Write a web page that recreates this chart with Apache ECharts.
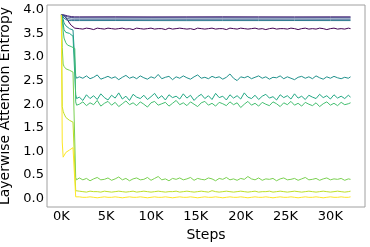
<!DOCTYPE html>
<html><head><meta charset="utf-8">
<script src="https://cdn.jsdelivr.net/npm/echarts@6/dist/echarts.min.js"></script>
<style>html,body{margin:0;padding:0;background:#fff}#c{width:370px;height:247px}</style>
</head><body><div id="c"></div>
<script>
// x positions (training steps)
const earlySteps = [0,100,200,300,500,700,900,1100,1300,1500,1600,1700];
const lateSteps = [];
for (let s = 2000; s <= 32000; s += 400) lateSteps.push(s);
lateSteps.push(32250);
const flatSteps = [2000,6000,10000,14000,18000,22000,26000,30000,32250];

const xTicks = ['0K','5K','10K','15K','20K','25K','30K'];
const yTicks = ['0.0','0.5','1.0','1.5','2.0','2.5','3.0','3.5','4.0'];

const colors = ['#440154','#482475','#414487','#355f8d','#2a788e','#21918c','#22a884','#44bf70','#7ad151','#bddf26','#fde725'];

// layer 0
const l0Early = [3.89,3.89,3.89,3.88,3.84,3.78,3.72,3.67,3.63,3.61,3.60,3.61];
const l0Late = [3.60,3.59,3.61,3.60,3.58,3.61,3.60,3.59,3.61,3.60,
3.59,3.60,3.61,3.59,3.60,3.58,3.61,3.60,3.59,3.60,
3.61,3.59,3.60,3.60,3.58,3.61,3.59,3.60,3.61,3.60,
3.59,3.60,3.58,3.61,3.60,3.59,3.60,3.61,3.59,3.60,
3.60,3.58,3.61,3.60,3.59,3.61,3.60,3.59,3.60,3.61,
3.59,3.60,3.58,3.60,3.61,3.59,3.60,3.60,3.59,3.61,
3.60,3.58,3.60,3.61,3.59,3.60,3.59,3.61,3.60,3.58,
3.60,3.61,3.59,3.60,3.59,3.61,3.60];
// layers 1-4 (nearly flat)
const l1Early = [3.89,3.89,3.89,3.89,3.88,3.87,3.86,3.855,3.85,3.85,3.85,3.85];
const l1Late = [3.85,3.851,3.849,3.85,3.851,3.85,3.849,3.85,3.85];
const l2Early = [3.89,3.89,3.89,3.88,3.87,3.85,3.84,3.835,3.83,3.83,3.83,3.83];
const l2Late = [3.83,3.829,3.831,3.83,3.83,3.829,3.83,3.831,3.83];
const l3Early = [3.89,3.89,3.88,3.86,3.83,3.81,3.80,3.80,3.80,3.80,3.80,3.80];
const l3Late = [3.80,3.80,3.801,3.799,3.80,3.80,3.801,3.80,3.80];
const l4Early = [3.89,3.89,3.86,3.82,3.78,3.77,3.77,3.77,3.77,3.77,3.77,3.77];
const l4Late = [3.77,3.771,3.77,3.769,3.77,3.77,3.771,3.77,3.77];
// layer 5
const l5Early = [3.89,3.88,3.80,3.72,3.66,3.62,3.60,3.58,3.57,3.56,2.60,2.55];
const l5Late = [2.58,2.55,2.60,2.54,2.57,2.62,2.53,2.56,2.59,2.55,
2.58,2.52,2.57,2.61,2.55,2.58,2.54,2.60,2.56,2.53,
2.58,2.55,2.63,2.54,2.57,2.59,2.52,2.58,2.55,2.60,
2.56,2.53,2.58,2.62,2.55,2.57,2.54,2.59,2.56,2.58,
2.53,2.57,2.64,2.55,2.50,2.58,2.56,2.59,2.54,2.57,
2.60,2.55,2.58,2.53,2.57,2.56,2.60,2.54,2.58,2.55,
2.52,2.57,2.59,2.55,2.58,2.54,2.60,2.56,2.53,2.58,
2.55,2.59,2.56,2.54,2.57,2.55,2.58];
// layer 6
const l6Early = [3.89,3.85,3.70,3.58,3.52,3.48,3.50,3.46,3.44,3.45,2.20,2.12];
const l6Late = [2.15,2.08,2.20,2.12,2.18,2.10,2.22,2.14,2.09,2.19,
2.13,2.24,2.11,2.17,2.08,2.21,2.15,2.12,2.19,2.10,
2.16,2.23,2.12,2.18,2.09,2.20,2.14,2.17,2.11,2.22,
2.13,2.19,2.08,2.16,2.21,2.12,2.18,2.10,2.23,2.14,
2.17,2.09,2.20,2.13,2.18,2.11,2.24,2.15,2.12,2.19,
2.10,2.17,2.21,2.13,2.16,2.09,2.20,2.14,2.18,2.11,
2.22,2.13,2.17,2.10,2.19,2.15,2.12,2.21,2.14,2.18,
2.11,2.20,2.13,2.17,2.12,2.19,2.15];
// layer 7
const l7Early = [3.89,3.80,3.55,3.40,3.30,3.25,3.28,3.22,3.20,3.18,2.05,1.98];
const l7Late = [2.00,2.05,1.97,2.03,1.99,2.08,1.96,2.02,2.06,1.98,
2.04,1.95,2.01,2.07,1.99,2.03,1.97,2.05,2.00,1.94,
2.03,2.06,1.98,2.01,2.04,1.96,2.02,2.08,1.99,2.03,
1.97,2.05,2.00,1.95,2.03,2.06,1.98,2.02,1.96,2.04,
2.01,1.97,2.05,1.99,2.03,1.93,2.00,2.06,1.98,2.02,
1.96,2.04,2.00,1.97,2.05,2.01,1.95,2.03,1.99,2.06,
1.98,2.02,1.96,2.04,2.00,1.97,2.03,1.95,2.01,2.05,
1.98,2.02,1.97,2.04,1.99,2.01,2.03];
// layer 8
const l8Early = [3.89,3.20,2.85,2.80,2.75,2.78,2.72,2.70,2.68,2.66,0.45,0.40];
const l8Late = [0.44,0.40,0.43,0.38,0.42,0.45,0.40,0.41,0.44,0.39,
0.42,0.46,0.40,0.43,0.38,0.42,0.44,0.40,0.41,0.45,
0.39,0.43,0.47,0.40,0.42,0.38,0.43,0.41,0.44,0.40,
0.42,0.45,0.39,0.43,0.41,0.40,0.44,0.42,0.38,0.43,
0.41,0.45,0.40,0.42,0.39,0.43,0.41,0.47,0.42,0.40,
0.44,0.39,0.42,0.41,0.43,0.38,0.42,0.44,0.40,0.41,
0.43,0.39,0.42,0.45,0.40,0.41,0.43,0.39,0.42,0.44,
0.40,0.42,0.41,0.43,0.39,0.42,0.41];
// layer 9
const l9Early = [3.89,1.95,1.85,1.80,1.72,1.70,1.66,1.64,1.62,1.60,0.17,0.15];
const l9Late = [0.16,0.15,0.14,0.16,0.15,0.15,0.14,0.16,0.15,0.14,
0.15,0.16,0.15,0.14,0.15,0.16,0.14,0.15,0.16,0.15,
0.14,0.15,0.16,0.15,0.14,0.15,0.15,0.16,0.14,0.15,
0.16,0.15,0.14,0.15,0.16,0.15,0.14,0.17,0.15,0.14,
0.15,0.16,0.15,0.14,0.15,0.16,0.15,0.14,0.15,0.16,
0.14,0.15,0.15,0.16,0.14,0.15,0.16,0.15,0.14,0.15,
0.16,0.15,0.14,0.15,0.16,0.15,0.14,0.15,0.16,0.15,
0.14,0.15,0.16,0.15,0.14,0.15,0.16];
// layer 10
const l10Early = [3.89,1.20,0.88,0.92,0.98,1.00,1.03,1.06,1.08,1.10,0.04,0.03];
const l10Late = [0.04,0.03,0.03,0.04,0.03,0.02,0.03,0.04,0.03,0.03,
0.04,0.03,0.02,0.03,0.04,0.03,0.03,0.04,0.03,0.02,
0.03,0.04,0.03,0.03,0.04,0.03,0.02,0.03,0.04,0.03,
0.03,0.04,0.03,0.02,0.03,0.04,0.03,0.03,0.04,0.03,
0.02,0.03,0.04,0.03,0.03,0.04,0.03,0.02,0.03,0.04,
0.03,0.03,0.04,0.03,0.02,0.03,0.04,0.03,0.03,0.04,
0.03,0.02,0.03,0.04,0.03,0.03,0.04,0.03,0.02,0.03,
0.04,0.03,0.03,0.04,0.03,0.03,0.04];

const layers = [
  [l0Early, l0Late, lateSteps],
  [l1Early, l1Late, flatSteps],
  [l2Early, l2Late, flatSteps],
  [l3Early, l3Late, flatSteps],
  [l4Early, l4Late, flatSteps],
  [l5Early, l5Late, lateSteps],
  [l6Early, l6Late, lateSteps],
  [l7Early, l7Late, lateSteps],
  [l8Early, l8Late, lateSteps],
  [l9Early, l9Late, lateSteps],
  [l10Early, l10Late, lateSteps]
];

function pairs(early, late, steps) {
  const out = earlySteps.map((s, i) => [s, early[i]]);
  steps.forEach((s, i) => out.push([s, late[i]]));
  return out;
}

const series = layers.map((l, i) => ({
  type: 'line',
  data: pairs(l[0], l[1], l[2]),
  showSymbol: false,
  symbol: 'none',
  lineStyle: { width: 1, color: colors[i] },
  itemStyle: { color: colors[i] },
  silent: true
}));

const font = 'DejaVu Sans';
const chart = echarts.init(document.getElementById('c'), null, { renderer: 'canvas' });
chart.setOption({
  animation: false,
  backgroundColor: '#fff',
  grid: { left: 47, right: 5, top: 5, bottom: 40, containLabel: false, outerBoundsMode: 'none',
    show: true, borderColor: '#a0a0a0', borderWidth: 1, backgroundColor: '#fff' },
  xAxis: {
    type: 'value', min: -1600, max: 33860, interval: 200,
    name: 'Steps', nameLocation: 'middle', nameGap: 18,
    nameTextStyle: { fontFamily: font, fontSize: 14, color: '#000' },
    axisLine: { show: false }, axisTick: { show: false }, splitLine: { show: false },
    axisLabel: { interval: 0, hideOverlap: false, showMinLabel: true, showMaxLabel: true,
      fontFamily: font, fontSize: 13, color: '#000', margin: 3,
      formatter: v => { const k = Math.round(v / 5000); return (Math.abs(v - k * 5000) < 1 && k >= 0 && k <= 6) ? xTicks[k] : ''; } }
  },
  yAxis: {
    type: 'value', min: -0.175, max: 4.1, interval: 0.025,
    name: 'Layerwise Attention Entropy', nameLocation: 'middle', nameGap: 30,
    nameTextStyle: { fontFamily: font, fontSize: 14, color: '#000' },
    axisLine: { show: false }, axisTick: { show: false }, splitLine: { show: false },
    axisLabel: { interval: 0, hideOverlap: false, fontFamily: font, fontSize: 13, color: '#000', margin: 3,
      formatter: v => { const k = Math.round(v / 0.5); return (Math.abs(v - k * 0.5) < 1e-4 && k >= 0 && k <= 8) ? yTicks[k] : ''; } }
  },
  series: series
});
</script></body></html>
